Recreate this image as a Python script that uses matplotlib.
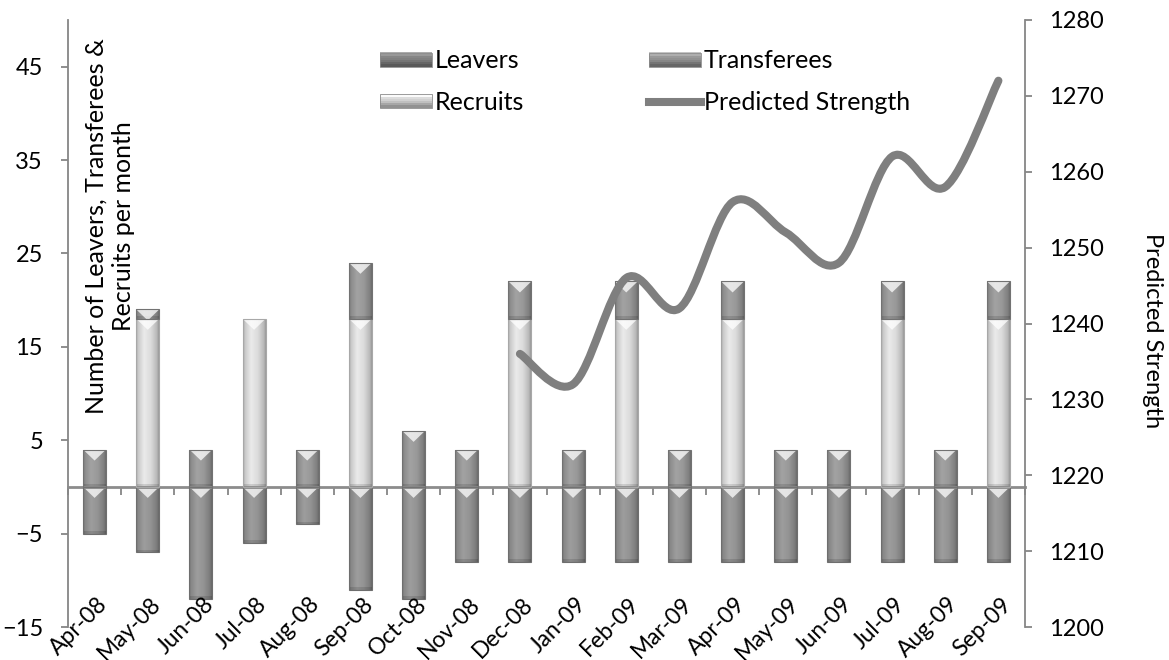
import matplotlib
matplotlib.use("Agg")
import matplotlib.pyplot as plt
import matplotlib.transforms as mtransforms
import numpy as np
from matplotlib.legend_handler import HandlerBase
from matplotlib.lines import Line2D
from matplotlib.patches import Patch, PathPatch, Polygon, Rectangle
from matplotlib.path import Path

plt.rcParams["font.family"] = ["Lato", "DejaVu Sans"]

months = ["Apr-08", "May-08", "Jun-08", "Jul-08", "Aug-08", "Sep-08", "Oct-08",
          "Nov-08", "Dec-08", "Jan-09", "Feb-09", "Mar-09", "Apr-09", "May-09",
          "Jun-09", "Jul-09", "Aug-09", "Sep-09"]
leavers = [-5, -7, -12, -6, -4, -11, -12, -8, -8, -8, -8, -8, -8, -8, -8, -8, -8, -8]
recruits = [0, 18, 0, 18, 0, 18, 0, 0, 18, 0, 18, 0, 18, 0, 0, 18, 0, 18]
transferees = [4, 1, 4, 0, 4, 6, 6, 4, 4, 4, 4, 4, 4, 4, 4, 4, 4, 4]
strength_months = months[8:]
strength = [1236, 1232, 1246, 1242, 1256, 1252, 1248, 1262, 1258, 1272]

# grey levels for the three bar series
G_LEAV, G_TRANS, G_REC = 0.55, 0.57, 0.82
AXIS_GREY = "#868686"
LINE_GREY = "#7f7f7f"

W, H = 1169, 660
fig = plt.figure(figsize=(W / 100, H / 100), dpi=100)
ax = fig.add_axes([68 / W, 1 - 627 / H, 957 / W, 607 / H])
YMIN, YMAX = -15, 50
px_per_unit = 607 / (YMAX - YMIN)


def face(base):
    t = np.linspace(0, 1, 48)
    f = np.interp(t, [0, .08, .35, .65, .92, 1], [.80, .96, 1.12, 1.05, .88, .74])
    g = np.clip(base * f, 0, 1)
    return np.repeat(g[None, :, None], 3, axis=2)


def bevel(patch, base):
    x0, w = patch.get_x(), patch.get_width()
    y0, h = patch.get_y(), patch.get_height()
    if h == 0:
        patch.set_visible(False)
        return
    lo, hi = min(y0, y0 + h), max(y0, y0 + h)
    im = ax.imshow(face(base), extent=(x0, x0 + w, lo, hi), aspect="auto",
                   interpolation="bilinear", zorder=2)
    im.set_clip_path(patch)
    th = 11 / px_per_unit
    tri = Polygon([(x0, hi), (x0 + w, hi), (x0 + w / 2, hi - th)], closed=True,
                  facecolor="white", alpha=0.75, edgecolor="none", zorder=2.3)
    ax.add_patch(tri)
    tri.set_clip_path(patch)
    shadow = Rectangle((x0, lo), w, 2.5 / px_per_unit, facecolor="black",
                       alpha=0.12, edgecolor="none", zorder=2.2)
    ax.add_patch(shadow)
    shadow.set_clip_path(patch)
    patch.set_facecolor("none")
    patch.set_zorder(3)


x = np.arange(len(months))
bw = 0.43
b_leav = ax.bar(x, leavers, bw, color="none", edgecolor="#6e6e6e", lw=0.8)
b_rec = ax.bar(x, recruits, bw, color="none", edgecolor="#a8a8a8", lw=0.8)
b_trans = ax.bar(x, transferees, bw, bottom=recruits, color="none",
                 edgecolor="#727272", lw=0.8)
for bars, g in ((b_leav, G_LEAV), (b_rec, G_REC), (b_trans, G_TRANS)):
    for p in bars:
        bevel(p, g)

ax.set_xlim(-0.5, len(months) - 0.5)
ax.set_ylim(YMIN, YMAX)
ax.set_yticks(np.arange(-15, 50, 10))
ax.spines[["top", "right"]].set_visible(False)
ax.spines["left"].set_color(AXIS_GREY)
ax.spines["left"].set_linewidth(1.3)
ax.spines["bottom"].set_position(("data", 0))
ax.spines["bottom"].set_color("#8c8c8c")
ax.spines["bottom"].set_linewidth(2)
ax.spines["bottom"].set_zorder(2.5)
ax.set_xticks(np.arange(-0.5, len(months), 1))
ax.set_xticklabels([])
ax.tick_params(axis="x", length=6, width=1.3, color=AXIS_GREY)
ax.tick_params(axis="y", length=5, width=1.3, color=AXIS_GREY, pad=13,
               labelsize=17)

# month labels along the bottom of the plot area
lab_tr = mtransforms.blended_transform_factory(ax.transData, ax.transAxes)
for i, m in enumerate(months):
    ax.text(i + 0.04, 0.055, m, transform=lab_tr, rotation=45,
            rotation_mode="anchor", ha="right", va="top", fontsize=16.5)

fig.text(110 / W, 1 - 226 / H,
         "Number of Leavers, Transferees &\nRecruits per month",
         rotation=90, ha="center", va="center", fontsize=18,
         multialignment="center", linespacing=1.25)

# predicted strength on the secondary axis, smoothed with Bezier segments
ax2 = ax.twinx()
ax2.set_ylim(1200, 1280)
ax2.set_yticks(np.arange(1200, 1281, 10))
for s in ("left", "top", "bottom"):
    ax2.spines[s].set_visible(False)
ax2.spines["right"].set_color(AXIS_GREY)
ax2.spines["right"].set_linewidth(1.3)
ax2.tick_params(axis="y", length=5, width=1.3, color=AXIS_GREY, pad=12,
                labelsize=17)
fig.text(1152 / W, 1 - 331 / H, "Predicted Strength", rotation=-90,
         ha="center", va="center", fontsize=17)

sx = np.array([months.index(m) for m in strength_months], dtype=float)
pts = np.column_stack([sx, np.array(strength, dtype=float)])
verts, codes = [pts[0]], [Path.MOVETO]
n = len(pts)
for i in range(n - 1):
    p0, p1 = pts[max(i - 1, 0)], pts[i]
    p2, p3 = pts[i + 1], pts[min(i + 2, n - 1)]
    verts += [p1 + (p2 - p0) / 6, p2 - (p3 - p1) / 6, p2]
    codes += [Path.CURVE4] * 3
ax2.add_patch(PathPatch(Path(verts, codes), facecolor="none",
                        edgecolor=LINE_GREY, lw=5.8, capstyle="round",
                        joinstyle="round", zorder=4))


class BevelSwatch(HandlerBase):
    def __init__(self, base):
        super().__init__()
        self.base = base

    def create_artists(self, legend, orig_handle, xdescent, ydescent,
                       width, height, fontsize, trans):
        shades = [1.35, 1.2, 1.05, 1.0, 0.92, 0.8, 0.7]
        k = len(shades)
        arts = []
        for j, f in enumerate(shades):
            g = min(self.base * f, 1)
            arts.append(Rectangle((-xdescent, -ydescent + height * (k - 1 - j) / k),
                                  width, height / k + 0.3,
                                  facecolor=(g, g, g), edgecolor="none",
                                  transform=trans))
        arts.append(Rectangle((-xdescent, -ydescent), width, height,
                              facecolor="none", edgecolor="#8a8a8a", lw=0.6,
                              transform=trans))
        return arts


h_leav = Patch(label="Leavers")
h_trans = Patch(label="Transferees")
h_rec = Patch(label="Recruits")
h_line = Line2D([], [], color=LINE_GREY, lw=5.8, label="Predicted Strength")
fig.legend(handles=[h_leav, h_rec, h_trans, h_line],
           labels=["Leavers", "Recruits", "Transferees", "Predicted Strength"],
           handler_map={h_leav: BevelSwatch(G_LEAV - 0.05), h_trans: BevelSwatch(G_TRANS),
                        h_rec: BevelSwatch(G_REC)},
           loc="upper left", bbox_to_anchor=(367 / W, 1 - 37 / H), ncol=2,
           frameon=False, fontsize=18, borderpad=0, handlelength=2.08,
           handleheight=0.5, handletextpad=0.12, columnspacing=5.0,
           labelspacing=0.72)

fig.savefig("out.png", dpi=100, facecolor="white")
